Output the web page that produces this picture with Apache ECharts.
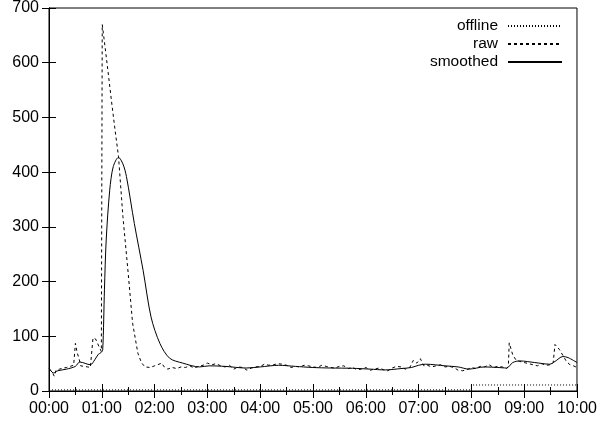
<!DOCTYPE html>
<html><head><meta charset="utf-8">
<script src="https://cdn.jsdelivr.net/npm/echarts@6/dist/echarts.min.js"></script>
<style>html,body{margin:0;padding:0;background:#fff}#c{width:600px;height:423px}</style>
</head><body><div id="c"></div>
<script>
// minutes since 00:00
const offlineTimes = [0, 480, 480, 600];
const offlineValues = [2, 2, 11, 11];

const rawTimes = [0,3,6,8,12,16,20,24,28,30,32,34,36,40,44,47,50,53,56,59.5,60.5,63,67,71,75,79,84,90,95,101,105,109,
  115,120,125,128,131,135,140,145,150,155,160,165,170,175,180,185,190,195,200,205,210,215,220,225,230,235,240,245,250,255,
  260,265,270,275,280,285,290,295,300,305,310,315,320,325,330,335,340,345,350,355,360,365,370,375,380,385,390,395,400,405,
  410,414,418,422,426,430,435,440,445,450,455,460,465,470,475,480,485,490,495,500,505,510,515,520,522,523,527,531,535,540,
  545,550,555,560,565,570,573,575,580,584,588,592,596,600];
const rawValues = [40,36,27,38,40,42,43,45,47,87,70,60,46,45,44,43,97,95,84,72,670,638,585,530,478,428,319,215,124,69,52,44,
  43,46,49,51,44,40,43,41,44,43,46,42,45,47,51,48,50,46,44,47,40,44,43,38,42,44,45,49,47,48,
  50,49,47,43,45,44,47,46,44,43,47,45,43,42,45,46,41,43,39,40,43,38,40,42,39,37,42,45,44,40,
  43,56,51,59,46,47,44,46,48,44,45,43,38,37,39,43,41,45,44,48,43,45,44,41,45,88,66,56,54,52,
  50,48,46,50,47,48,52,85,76,65,54,48,46,43];

const smoothTimes = [0,5,10,20,30,35,47,52,56,59,61,63,65,69,73,79,84,88,97,107,116,126,137,152,171,182,200,224,240,261,280,
  299,320,345,365,382,400,412,420,428,450,465,477,495,510,520,527,535,552,569,575,584,590,600];
const smoothValues = [42,33,37,40,45,53,48,57,67,70,75,185,276,367,410,427,415,392,306,220,135,87,60,51,44,46,45,42,44,47,45,
  43,42,41.5,40,38.5,41,43,47,49,46,44,40,44,43,42,52,55,52,49,54,63,61,52];

const yTicks = [0,100,200,300,400,500,600,700];

function zip(a, b) { return a.map((t, i) => [t, b[i]]); }
function fmt(v) { const h = Math.floor(v / 60), m = Math.round(v % 60); return String(h).padStart(2,'0') + ':' + String(m).padStart(2,'0'); }

const FONT = "'Liberation Sans', Arial, sans-serif";
const chart = echarts.init(document.getElementById('c'), null, {renderer: 'canvas'});
const axisCommon = {
  axisLine: {show: true, lineStyle: {color: '#000', width: 1}},
  splitLine: {show: false},
};
chart.setOption({
  animation: false,
  backgroundColor: '#fff',
  textStyle: {fontFamily: FONT, color: '#000'},
  grid: {left: 49, right: 21, top: 8, bottom: 32, show: true, borderColor: '#000', borderWidth: 1, backgroundColor: 'transparent'},
  legend: {
    orient: 'vertical', right: 32, top: 13, align: 'right', itemWidth: 54, itemHeight: 10, itemGap: 2,
    itemStyle: {opacity: 0},
    textStyle: {fontFamily: FONT, fontSize: 15.5, color: '#000', padding: [0, 5, 0, 0]},
    data: ['offline', 'raw', 'smoothed']
  },
  xAxis: [
    Object.assign({}, axisCommon, {type: 'value', min: 0, max: 600, interval: 60, position: 'bottom',
      axisTick: {show: true, inside: true, length: 7, lineStyle: {color: '#000'}},
      minorTick: {show: true, splitNumber: 2, length: 4, lineStyle: {color: '#000'}},
      axisLabel: {formatter: fmt, fontFamily: FONT, fontSize: 16, color: '#000', margin: 10}}),
    Object.assign({}, axisCommon, {type: 'value', min: 0, max: 600, interval: 60, position: 'top',
      axisTick: {show: true, inside: true, length: 7, lineStyle: {color: '#000'}},
      minorTick: {show: true, splitNumber: 2, length: 4, lineStyle: {color: '#000'}},
      axisLabel: {show: false}})
  ],
  yAxis: [
    Object.assign({}, axisCommon, {type: 'value', min: yTicks[0], max: yTicks[yTicks.length-1], interval: 100, position: 'left',
      axisTick: {show: true, inside: true, length: 7, lineStyle: {color: '#000'}},
      axisLabel: {fontFamily: FONT, fontSize: 16, color: '#000', margin: 10}}),
    Object.assign({}, axisCommon, {type: 'value', min: yTicks[0], max: yTicks[yTicks.length-1], interval: 100, position: 'right',
      axisTick: {show: true, inside: true, length: 7, lineStyle: {color: '#000'}},
      axisLabel: {show: false}})
  ],
  series: [
    {name: 'offline', type: 'line', data: zip(offlineTimes, offlineValues), symbol: 'none', color: '#000',
      lineStyle: {color: '#000', width: 1, type: [1, 2]}},
    {name: 'raw', type: 'line', data: zip(rawTimes, rawValues), symbol: 'none', color: '#000',
      lineStyle: {color: '#000', width: 1, type: [3, 3]}},
    {name: 'smoothed', type: 'line', data: zip(smoothTimes, smoothValues), symbol: 'none', smooth: 0.3, color: '#000',
      lineStyle: {color: '#000', width: 1, type: 'solid'}}
  ]
});
</script></body></html>
